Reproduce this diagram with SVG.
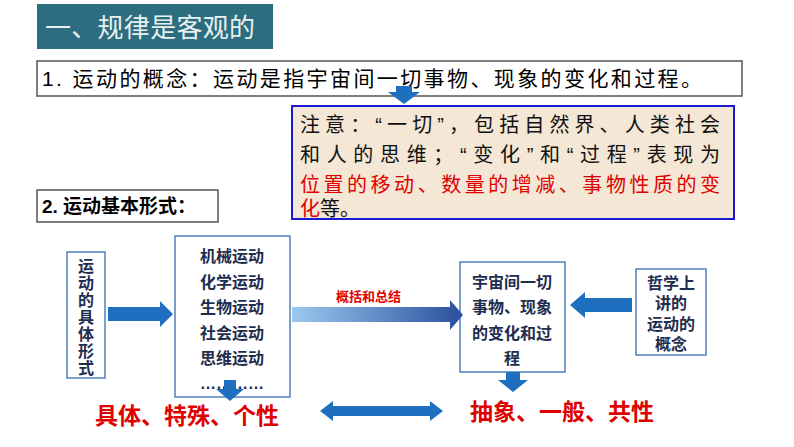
<svg xmlns="http://www.w3.org/2000/svg" width="794" height="447" viewBox="0 0 794 447">
<defs>
<style>
.t{font-family:"Liberation Sans","Noto Sans CJK SC",sans-serif}
.box{fill:#fff;stroke:#4f81bd;stroke-width:1.5}
.n{font-size:16px;fill:#1f2d4f;font-weight:bold;text-anchor:middle}
.arr{fill:#1e6fc0}
.red{fill:#e00000;font-weight:bold}
</style>
<linearGradient id="g" x1="0" x2="1"><stop offset="0" stop-color="#9cc8f0"/><stop offset="1" stop-color="#2a4f9c"/></linearGradient>
</defs>
<rect width="794" height="447" fill="#fff"/>
<g id="title"><rect x="37" y="4" width="236" height="45" fill="#2c6e7f"/><text class="t" x="45" y="37" font-size="26" fill="#e8f0f0" textLength="210">一、规律是客观的</text></g>
<g id="def"><rect x="37" y="61" width="705" height="35" fill="#fff" stroke="#555" stroke-width="1.5"/><text class="t" x="42" y="86" font-size="21" fill="#000" textLength="660">1. 运动的概念：运动是指宇宙间一切事物、现象的变化和过程。</text></g>
<g id="note"><rect x="292" y="106" width="442" height="113" fill="#f4e7d5" stroke="#1a1ad0" stroke-width="2"/>
<text class="t" font-size="20" fill="#111"><tspan x="300" y="132" textLength="420">注意：“一切”，包括自然界、人类社会</tspan><tspan x="300" y="162" textLength="420">和人的思维；“变化”和“过程”表现为</tspan><tspan x="300" y="192" fill="#e00000" textLength="420">位置的移动、数量的增减、事物性质的变</tspan><tspan x="300" y="216"><tspan fill="#e00000">化</tspan>等。</tspan></text></g>
<g id="forms"><rect x="37" y="190" width="181" height="32" fill="#fff" stroke="#555" stroke-width="1.5"/><text class="t" x="42" y="213" font-size="19" font-weight="bold" fill="#000">2. 运动基本形式：</text></g>
<g id="a"><rect class="box" x="67" y="252" width="38" height="126" stroke="#a0b4c8"/>
<text class="t n" font-weight="normal"><tspan x="86" y="272">运</tspan><tspan x="86" y="289">动</tspan><tspan x="86" y="306">的</tspan><tspan x="86" y="323">具</tspan><tspan x="86" y="340">体</tspan><tspan x="86" y="357">形</tspan><tspan x="86" y="374">式</tspan></text></g>
<g id="b"><rect class="box" x="175" y="236" width="115" height="161" stroke="#2e6bb0"/>
<text class="t n" font-size="17"><tspan x="232" y="262">机械运动</tspan><tspan x="232" y="288">化学运动</tspan><tspan x="232" y="313">生物运动</tspan><tspan x="232" y="339">社会运动</tspan><tspan x="232" y="364">思维运动</tspan><tspan x="232" y="389">…………</tspan></text></g>
<g id="c"><rect class="box" x="460" y="262" width="105" height="110" stroke="#2e6bb0"/>
<text class="t n"><tspan x="512" y="288">宇宙间一切</tspan><tspan x="512" y="313">事物、现象</tspan><tspan x="512" y="339">的变化和过</tspan><tspan x="512" y="364">程</tspan></text></g>
<g id="d"><rect class="box" x="636" y="269" width="70" height="86" stroke="#6d8fb8"/>
<text class="t n"><tspan x="671" y="289">哲学上</tspan><tspan x="671" y="309">讲的</tspan><tspan x="671" y="330">运动的</tspan><tspan x="671" y="350">概念</tspan></text></g>
<g id="labels" class="t red"><text x="95" y="424" font-size="23">具体、特殊、个性</text><text x="470" y="420" font-size="23">抽象、一般、共性</text><text x="336" y="301" font-size="13">概括和总结</text></g>
<g id="connectors">
<polygon class="arr" points="396,86 412,86 412,92 420,92 404,104 388,92 396,92"/>
<polygon class="arr" points="108,307 160,307 160,301 173,314 160,327 160,321 108,321"/>
<polygon fill="url(#g)" points="292,307 450,307 450,300 463,315 450,330 450,322 292,322"/>
<polygon class="arr" points="632,298 585,298 585,292 570,305 585,318 585,312 632,312"/>
<polygon class="arr" points="224,380 236,380 236,389 244,389 230,401 216,389 224,389"/>
<polygon class="arr" points="506,372 520,372 520,380 528,380 513,392 498,380 506,380"/>
<polygon class="arr" points="320,411 333,401 333,406 430,406 430,401 443,411 430,421 430,416 333,416 333,421"/>
</g>
</svg>
